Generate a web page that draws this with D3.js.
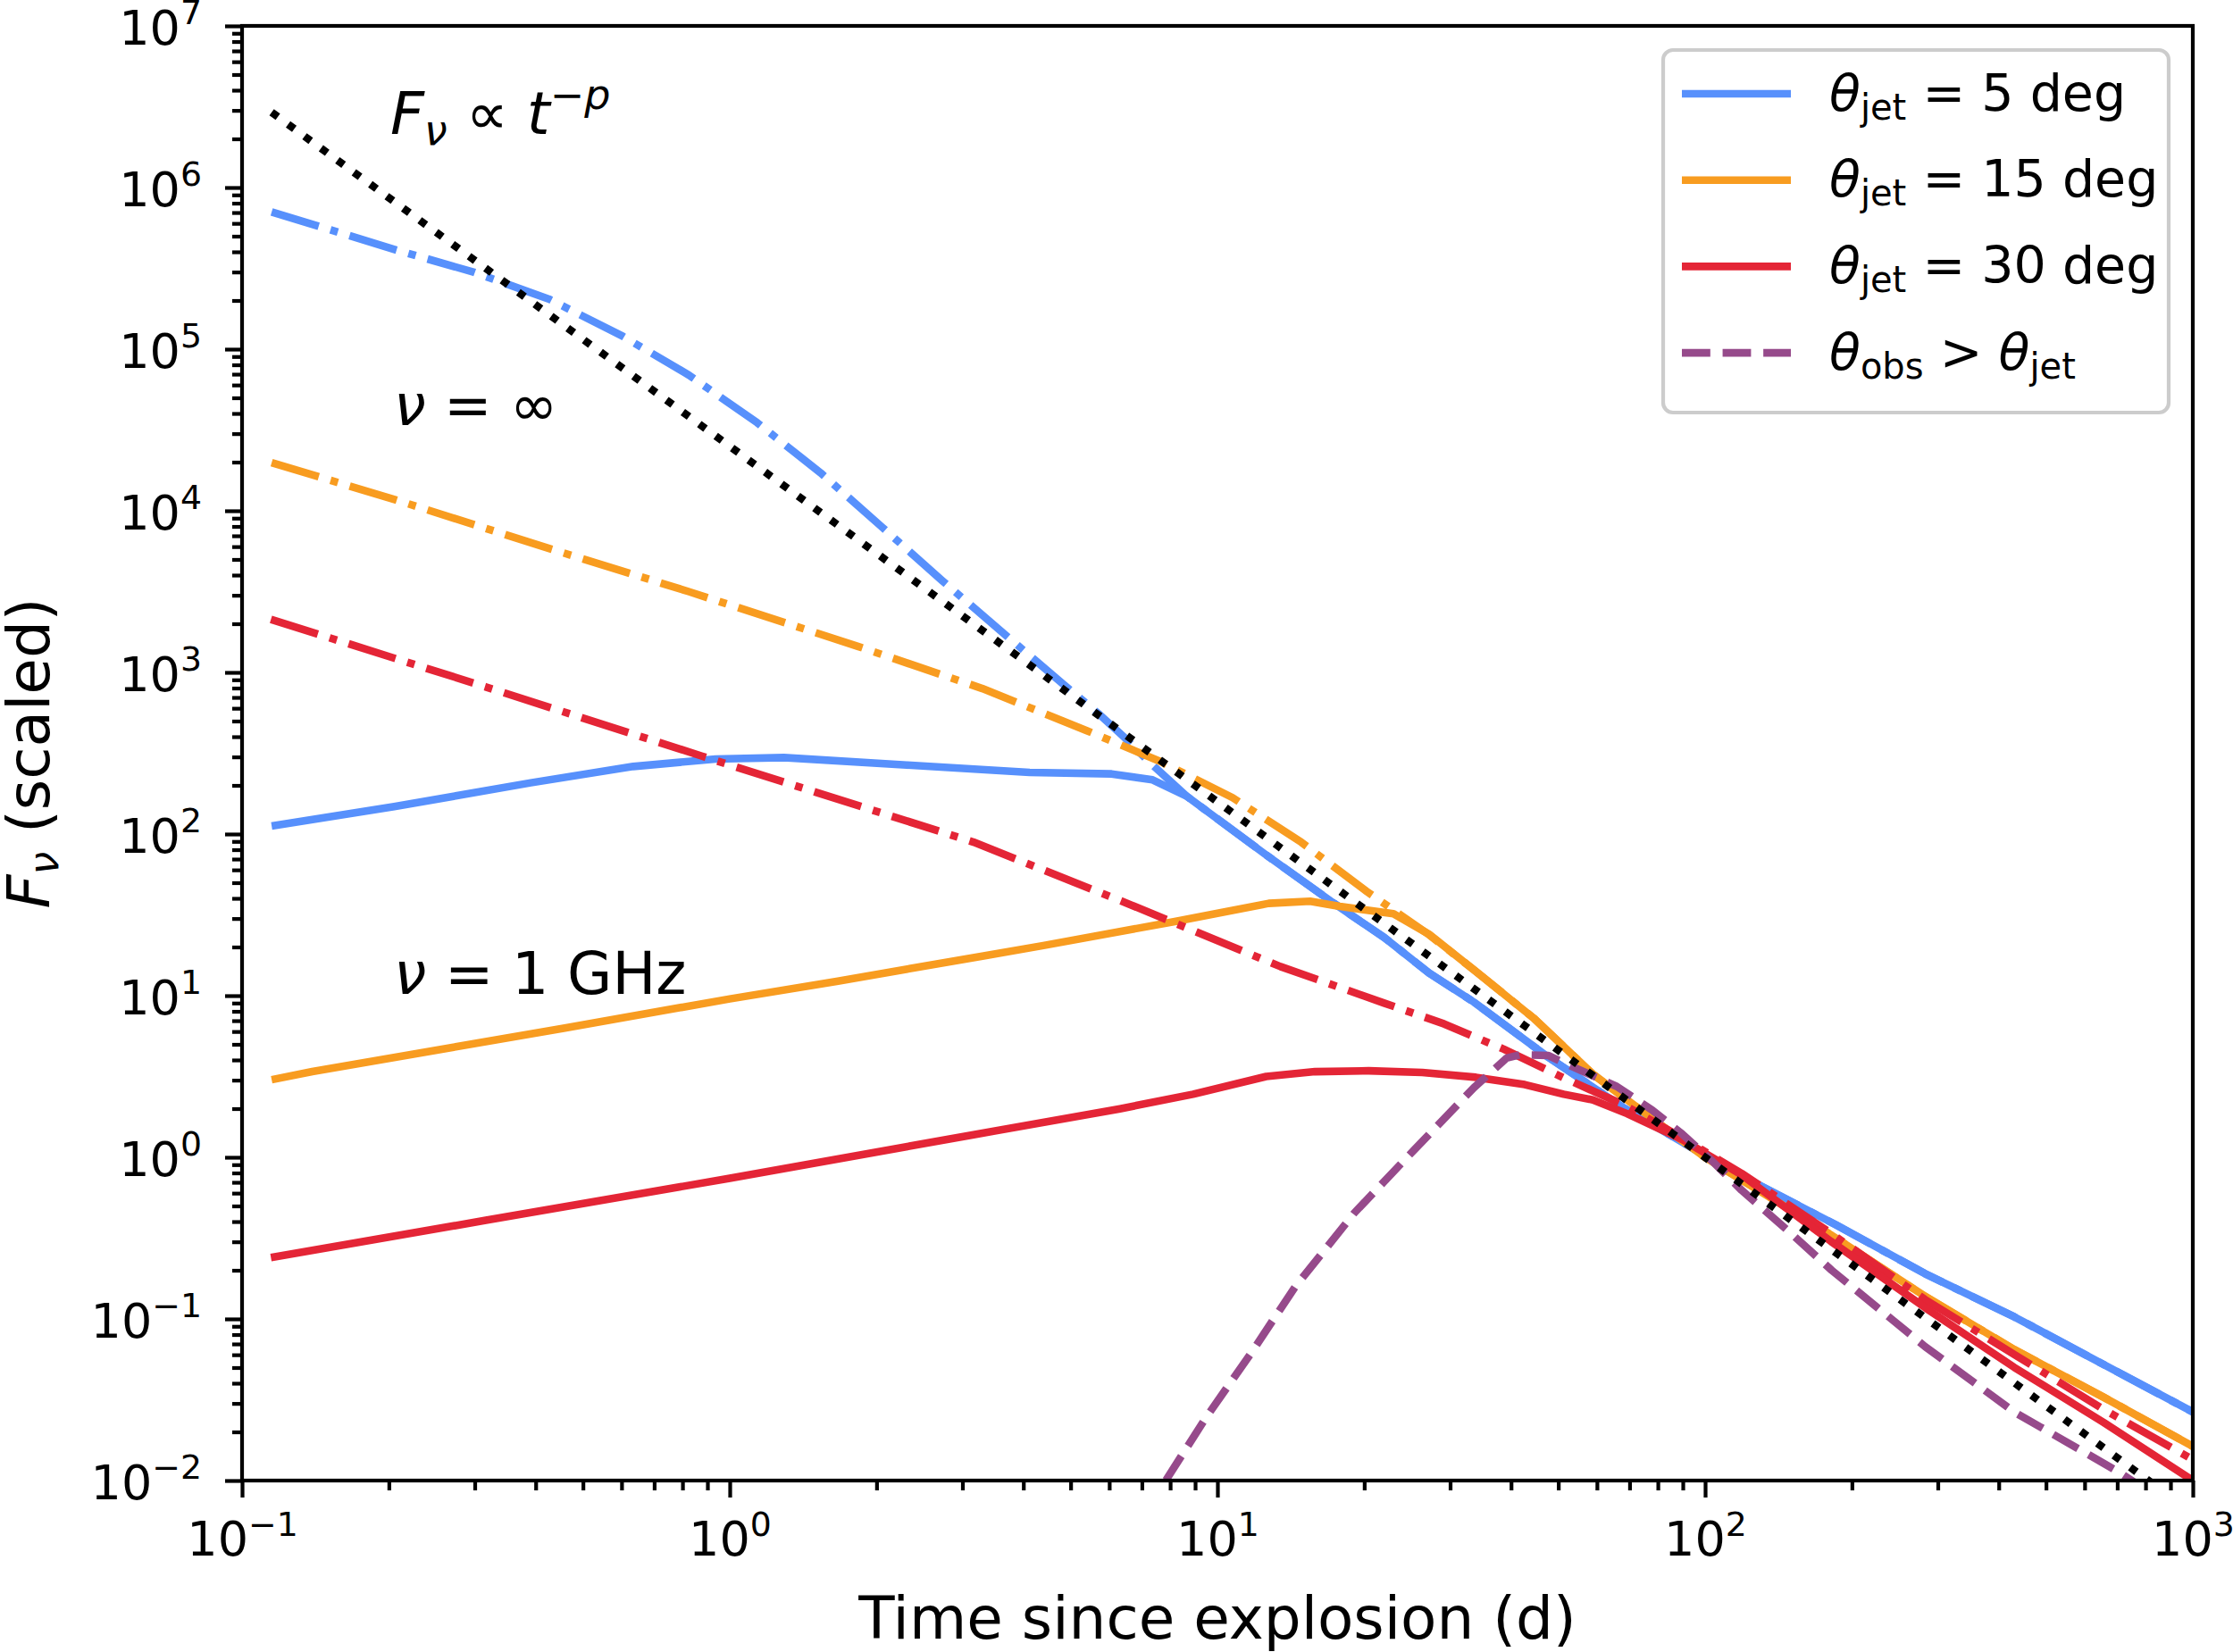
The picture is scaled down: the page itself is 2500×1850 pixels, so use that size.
<!DOCTYPE html>
<html>
<head>
<meta charset="utf-8">
<script src="https://cdn.jsdelivr.net/npm/d3@7/dist/d3.min.js"></script>
<style>
body { margin: 0; background: #fff; }
text { font-family: "DejaVu Sans"; fill: #000; }
</style>
</head>
<body>
<svg id="chart" width="2500" height="1850"></svg>
<script>
// values: time since explosion (d) and scaled flux

// theta_jet = 5 deg
var tBlueInf = [0.115, 0.2075, 0.299, 0.426, 0.604, 0.824, 1.138, 1.538, 2.051, 2.723, 3.656, 4.842, 5.728, 6.471, 7.244, 8.65,
                12.53, 17.34, 21.98, 27.16, 33.57, 47.64, 67.76, 95.06, 121.3, 184.9, 282.5, 430.5, 656.1, 1000];
var fBlueInf = [7.06e5, 4.10e5, 2.99e5, 2.04e5, 1.20e5, 6.92e4, 3.51e4, 1.71e4, 7943, 3707, 1730, 839.5, 549.5, 391.7, 279.3, 171.4,
                75.0, 37.24, 22.91, 13.8, 9.12, 4.169, 2.042, 1.122, 0.7413, 0.3837, 0.1905, 0.103, 0.05224, 0.02655];
var tBlueGHz = [0.115, 0.2051, 0.3908, 0.6339, 0.9354, 1.291, 2.307, 4.121, 6.067, 7.362, 8.65,
                12.53, 17.34, 21.98, 27.16, 33.57, 47.64, 67.76, 95.06, 121.3, 184.9, 282.5, 430.5, 656.1, 1000];
var fBlueGHz = [112.2, 147.9, 207.5, 261.8, 291.1, 297.2, 267.3, 240.4, 235.5, 216.3, 171.4,
                75.0, 37.24, 22.91, 13.8, 9.12, 4.169, 2.042, 1.122, 0.7413, 0.3837, 0.1905, 0.103, 0.05224, 0.02655];

// theta_jet = 15 deg
var tOrangeInf = [0.115, 0.2075, 0.4315, 0.824, 1.837, 3.296, 5.395, 7.674, 10.74, 14.86, 20.23, 27.16, 33.57, 44.46, 58.88, 77.98,
                  100, 181.1, 282.5, 430.5, 656.1, 1000];
var fOrangeInf = [1.982e4, 1.164e4, 5781, 3162, 1445, 794.3, 436.5, 279.3, 167.9, 88.92, 44.16, 23.82, 14.45, 7.278, 3.266, 1.73,
                  1.0, 0.3311, 0.138, 0.06457, 0.03281, 0.01629];
var tOrangeGHz = [0.115, 0.1393, 0.4592, 1.0, 1.667, 3.296, 4.395, 8.222, 12.74, 15.49, 17.82, 22.96, 27.16,
                  33.57, 44.46, 58.88, 77.98, 100, 181.1, 282.5, 430.5, 656.1, 1000];
var fOrangeGHz = [3.02, 3.388, 6.31, 9.55, 12.3, 17.58, 20.42, 28.84, 37.24, 38.37, 35.65, 32.14, 24.0,
                  14.45, 7.278, 3.266, 1.73, 1.0, 0.3311, 0.138, 0.06457, 0.03281, 0.01629];

// theta_jet = 30 deg
var tRedInf = [0.1146, 0.3162, 0.877, 3.162, 6.668, 13.46, 21.98, 29.17, 38.64, 51.17, 67.76, 89.74, 118.9, 181.1, 282.5, 430.5, 656.1, 1000];
var fRedInf = [2128, 812.8, 303.4, 89.13, 36.31, 15.14, 8.995, 6.683, 4.667, 3.112, 2.128, 1.318, 0.7943, 0.3388, 0.1318, 0.06026, 0.02754, 0.01349];
var tRedGHz = [0.1146, 0.3162, 1.0, 3.162, 6.31, 8.913, 12.59, 15.85, 20.42, 26.3, 33.88, 42.66, 51.29, 58.88, 69.18,
               89.74, 118.9, 181.1, 282.5, 430.5, 656.1, 1000];
var fRedGHz = [0.2399, 0.4074, 0.7413, 1.38, 1.995, 2.455, 3.162, 3.388, 3.428, 3.35, 3.126, 2.818, 2.455, 2.265, 1.862,
               1.288, 0.7762, 0.302, 0.1175, 0.05012, 0.02291, 0.01];

// off-axis observer
var tOff = [7.079, 7.834, 9.462, 11.69, 14.42, 19.1, 25.29, 33.57, 39.17, 41.69, 47.64, 51.17, 65.92, 77.98, 89.74,
            103.3, 118.9, 146.9, 182.0, 282.5, 430.5, 703.1, 794.3];
var fOff = [0.006166, 0.01, 0.02438, 0.06067, 0.1574, 0.4539, 1.107, 2.698, 4.111, 4.305, 4.266, 3.855, 2.742, 1.954, 1.393,
            0.9506, 0.6237, 0.3581, 0.1995, 0.06745, 0.02655, 0.01135, 0.008913];

// F ~ t^-p guide (p = 2.2)
var tPow = [0.115, 1000];
var fPow = [2.92e6, 6.31e-3];

var legendLabels = ["5 deg", "15 deg", "30 deg"];
var xMajor = [0.1, 1, 10, 100, 1000];
var yMajor = [1e-2, 1e-1, 1, 10, 100, 1e3, 1e4, 1e5, 1e6, 1e7];

var blue = "#5790fc", orange = "#f89c20", red = "#e42536", purple = "#964a8b";
var lw = 8.6;
var dashDot = [6.4 * lw, 1.6 * lw, lw, 1.6 * lw].join(","),
    dashed = [3.7 * lw, 1.6 * lw].join(","),
    dotted = [lw, 1.65 * lw].join(",");

var svg = d3.select("#chart");
// NB: "top" is taken by window.top, so use prefixed names
var pLeft = 271, pRight = 2455, pTop = 29, pBottom = 1658;

var x = d3.scaleLog().domain([0.1, 1000]).range([pLeft, pRight]);
var y = d3.scaleLog().domain([0.01, 1e7]).range([pBottom, pTop]);

function minors(lo, hi) {
	var out = [];
	for (var e = lo; e < hi; e++) {
		for (var k = 2; k <= 9; k++) out.push(k * Math.pow(10, e));
	}
	return out;
}

svg.append("defs").append("clipPath").attr("id", "plotclip")
	.append("rect").attr("x", pLeft).attr("y", pTop)
	.attr("width", pRight - pLeft).attr("height", pBottom - pTop);

var series = [
	{t: tBlueInf, f: fBlueInf, color: blue, dash: dashDot},
	{t: tBlueGHz, f: fBlueGHz, color: blue, dash: null},
	{t: tOrangeInf, f: fOrangeInf, color: orange, dash: dashDot},
	{t: tOrangeGHz, f: fOrangeGHz, color: orange, dash: null},
	{t: tRedInf, f: fRedInf, color: red, dash: dashDot},
	{t: tRedGHz, f: fRedGHz, color: red, dash: null},
	{t: tOff, f: fOff, color: purple, dash: dashed},
	{t: tPow, f: fPow, color: "#000", dash: dotted}
];

var line = d3.line()
	.x(function(d) { return x(d[0]); })
	.y(function(d) { return y(d[1]); });

var plot = svg.append("g").attr("clip-path", "url(#plotclip)");
plot.selectAll("path")
	.data(series)
	.enter().append("path")
	.attr("d", function(s) { return line(d3.zip(s.t, s.f)); })
	.attr("fill", "none")
	.attr("stroke", function(s) { return s.color; })
	.attr("stroke-width", lw)
	.attr("stroke-linejoin", "round")
	.attr("stroke-dasharray", function(s) { return s.dash; });

// axes: major + minor ticks, labels drawn by hand for the superscripts
function styleAxis(g) {
	g.select(".domain").remove();
	g.selectAll(".tick line").attr("stroke", "#000").attr("stroke-width", 4.2);
	g.selectAll(".tick text").remove();
}

function expText(sel, e, size) {
	sel.append("tspan").text("10");
	sel.append("tspan").attr("font-size", size * 0.7).attr("dy", -size * 0.41)
		.text(e < 0 ? "\u2212" + (-e) : "" + e);
}

var xAxisG = svg.append("g").attr("transform", "translate(0," + pBottom + ")");
xAxisG.append("g").call(d3.axisBottom(x).tickValues(minors(-1, 3)).tickSize(11)).call(styleAxis);
var xMaj = xAxisG.append("g").call(d3.axisBottom(x).tickValues(xMajor).tickSize(19)).call(styleAxis);
xMaj.selectAll(".tick").append("text")
	.attr("y", 84).attr("text-anchor", "middle").attr("font-size", 54)
	.each(function(d) { expText(d3.select(this), Math.round(Math.log10(d)), 54); });

var yAxisG = svg.append("g").attr("transform", "translate(" + pLeft + ",0)");
yAxisG.append("g").call(d3.axisLeft(y).tickValues(minors(-2, 7)).tickSize(11)).call(styleAxis);
var yMaj = yAxisG.append("g").call(d3.axisLeft(y).tickValues(yMajor).tickSize(19)).call(styleAxis);
yMaj.selectAll(".tick").append("text")
	.attr("x", -45).attr("y", 20).attr("text-anchor", "end").attr("font-size", 54)
	.each(function(d) { expText(d3.select(this), Math.round(Math.log10(d)), 54); });

// frame
svg.append("rect")
	.attr("x", pLeft).attr("y", pTop).attr("width", pRight - pLeft).attr("height", pBottom - pTop)
	.attr("fill", "none").attr("stroke", "#000").attr("stroke-width", 4.2);

// axis labels
svg.append("text")
	.attr("x", (pLeft + pRight) / 2).attr("y", 1835)
	.attr("text-anchor", "middle").attr("font-size", 66)
	.text("Time since explosion (d)");

var yl = svg.append("text")
	.attr("transform", "translate(55," + ((pTop + pBottom) / 2) + ") rotate(-90)")
	.attr("text-anchor", "middle").attr("font-size", 66);
yl.append("tspan").attr("font-style", "italic").text("F");
yl.append("tspan").attr("font-style", "italic").attr("font-size", 46).attr("dy", 10).text("\u03bd");
yl.append("tspan").attr("dy", -10).text(" (scaled)");

// annotations
var a1 = svg.append("text").attr("x", 437).attr("y", 150).attr("font-size", 66);
a1.append("tspan").attr("font-style", "italic").text("F");
a1.append("tspan").attr("font-style", "italic").attr("font-size", 46).attr("dy", 12).text("\u03bd");
a1.append("tspan").attr("dy", -12).text(" \u221d ");
a1.append("tspan").attr("font-style", "italic").text("t");
a1.append("tspan").attr("font-size", 46).attr("dy", -28).text("\u2212");
a1.append("tspan").attr("font-size", 46).attr("font-style", "italic").text("p");

var a2 = svg.append("text").attr("x", 441).attr("y", 476).attr("font-size", 64);
a2.append("tspan").attr("font-style", "italic").text("\u03bd");
a2.append("tspan").text(" = \u221e");

var a3 = svg.append("text").attr("x", 441).attr("y", 1113).attr("font-size", 65);
a3.append("tspan").attr("font-style", "italic").text("\u03bd");
a3.append("tspan").text(" = 1 GHz");

// legend
var leg = svg.append("g");
leg.append("rect")
	.attr("x", 1862).attr("y", 56).attr("width", 566).attr("height", 406)
	.attr("rx", 11).attr("ry", 11)
	.attr("fill", "#fff").attr("fill-opacity", 0.8)
	.attr("stroke", "#cccccc").attr("stroke-width", 4.2);

var legRows = [
	{color: blue, dash: null},
	{color: orange, dash: null},
	{color: red, dash: null},
	{color: purple, dash: dashed}
];
legRows.forEach(function(r, i) {
	var cy = 105 + i * 96.7;
	leg.append("line")
		.attr("x1", 1883).attr("x2", 2005).attr("y1", cy).attr("y2", cy)
		.attr("stroke", r.color).attr("stroke-width", lw)
		.attr("stroke-dasharray", r.dash);
	var t = leg.append("text").attr("x", 2048).attr("y", cy + 18.5).attr("font-size", 57);
	t.append("tspan").attr("font-style", "italic").text("\u03b8");
	if (i < 3) {
		t.append("tspan").attr("font-size", 40).attr("dy", 10).text("jet");
		t.append("tspan").attr("dy", -10).text(" = " + legendLabels[i]);
	} else {
		t.append("tspan").attr("font-size", 40).attr("dy", 10).text("obs");
		t.append("tspan").attr("dy", -10).text(" > ");
		t.append("tspan").attr("font-style", "italic").text("\u03b8");
		t.append("tspan").attr("font-size", 40).attr("dy", 10).text("jet");
	}
});
</script>
</body>
</html>
